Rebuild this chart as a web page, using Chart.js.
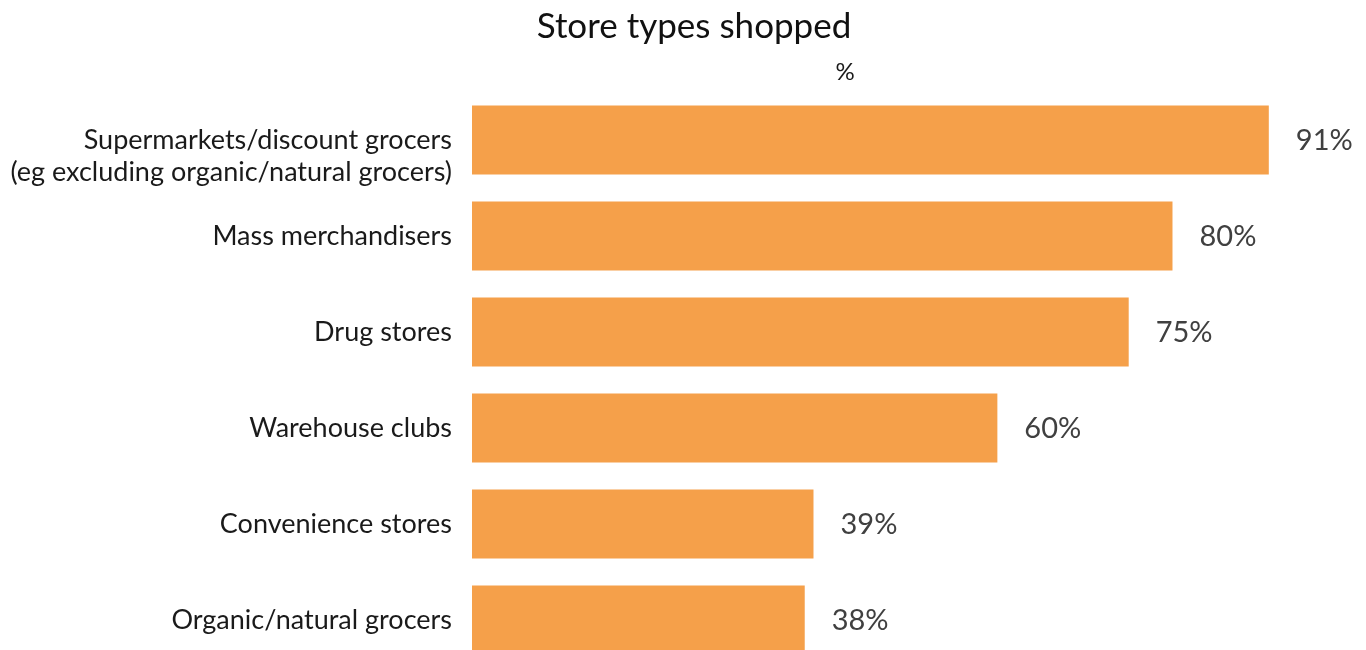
<!DOCTYPE html>
<html>
<head>
<meta charset="utf-8">
<script src="https://cdn.jsdelivr.net/npm/chart.js@4"></script>
<style>
  html, body { margin: 0; padding: 0; background: #ffffff; overflow: hidden; }
  #wrap { position: relative; width: 1366px; height: 680px; }
</style>
</head>
<body>
<div id="wrap"><canvas id="c"></canvas></div>
<script>
const chartTitle = 'Store types shopped';
const unitLabel = '%';
const categories = [
  ['', 'Supermarkets/discount grocers', '(eg excluding organic/natural grocers)'],
  'Mass merchandisers',
  'Drug stores',
  'Warehouse clubs',
  'Convenience stores',
  'Organic/natural grocers'
];
const shares = [91, 80, 75, 60, 39, 38];
const valueLabels = ['91%', '80%', '75%', '60%', '39%', '38%'];

const barColor = '#F5A04A';
const FONT = 'Lato, "Noto Sans", sans-serif';

const valueLabelPlugin = {
  id: 'valueLabels',
  afterDatasetsDraw(chart) {
    const ctx = chart.ctx;
    const meta = chart.getDatasetMeta(0);
    ctx.save();
    ctx.font = '29px ' + FONT;
    ctx.fillStyle = '#404040';
    ctx.textAlign = 'left';
    ctx.textBaseline = 'middle';
    meta.data.forEach((bar, i) => {
      ctx.fillText(valueLabels[i], bar.x + 27, bar.y + 1);
    });
    ctx.restore();
  }
};

const unitPlugin = {
  id: 'unitLabel',
  afterDraw(chart) {
    const ctx = chart.ctx;
    ctx.save();
    ctx.font = '24px ' + FONT;
    ctx.fillStyle = '#1a1a1a';
    ctx.textAlign = 'center';
    ctx.textBaseline = 'middle';
    ctx.fillText(unitLabel, 845, 72);
    ctx.restore();
  }
};

new Chart(document.getElementById('c'), {
  type: 'bar',
  data: {
    labels: categories,
    datasets: [{
      data: shares,
      backgroundColor: barColor,
      borderWidth: 0,
      barPercentage: 0.72,
      categoryPercentage: 1.0
    }]
  },
  options: {
    indexAxis: 'y',
    responsive: true,
    maintainAspectRatio: false,
    animation: false,
    layout: { padding: { left: 0, right: -22, top: 0, bottom: 12 } },
    plugins: {
      legend: { display: false },
      tooltip: { enabled: false },
      title: {
        display: true,
        text: chartTitle,
        color: '#111111',
        font: { family: FONT, size: 35, weight: 'normal', lineHeight: 1.2 },
        padding: { top: 6, bottom: 44 }
      }
    },
    scales: {
      x: {
        display: false,
        min: 0,
        max: 102.1
      },
      y: {
        grid: { display: false, drawTicks: false },
        border: { display: false },
        ticks: {
          autoSkip: false,
          color: '#1a1a1a',
          padding: 20,
          font: { family: FONT, size: 27, lineHeight: 1.185 }
        },
        afterFit(scale) {
          scale.width = 472;
          scale.paddingTop = 0;
          scale.paddingBottom = 0;
        }
      }
    }
  },
  plugins: [valueLabelPlugin, unitPlugin]
});
</script>
</body>
</html>
